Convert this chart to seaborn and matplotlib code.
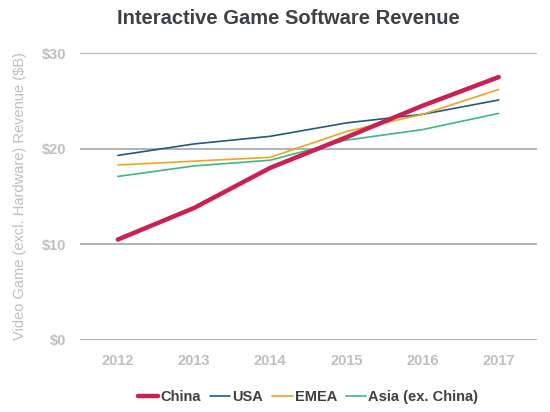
import pandas as pd
import seaborn as sns
import matplotlib.pyplot as plt

years = [2012, 2013, 2014, 2015, 2016, 2017]
china = [10.5, 13.8, 18.0, 21.2, 24.5, 27.5]
usa = [19.3, 20.5, 21.3, 22.7, 23.6, 25.1]
emea = [18.3, 18.7, 19.1, 21.8, 23.6, 26.2]
asia = [17.1, 18.2, 18.8, 20.9, 22.0, 23.7]
regions = ["China", "USA", "EMEA", "Asia (ex. China)"]
colors = ["#CC1F52", "#1F5A84", "#F2A31F", "#3DB887"]
widths = [3.2, 1.2, 1.2, 1.2]

df = pd.DataFrame({"year": years, "China": china, "USA": usa,
                   "EMEA": emea, "Asia (ex. China)": asia})
long_df = df.melt(id_vars="year", var_name="region", value_name="revenue")

sns.set_style("white")
plt.rcParams["font.family"] = ["Liberation Sans", "DejaVu Sans"]

fig = plt.figure(figsize=(5.5, 4.12), dpi=100)
ax = fig.add_axes([0.145, 0.175, 0.831, 0.696])

for name, col, lw in zip(regions, colors, widths):
    sns.lineplot(data=long_df[long_df["region"] == name], x="year", y="revenue",
                 color=col, linewidth=lw, label=name, ax=ax, zorder=3 if name == "China" else 2)

ax.set_ylim(0, 30)
ax.set_xlim(2011.5, 2017.5)
ax.set_yticks([0, 10, 20, 30])
ax.set_yticklabels(["$0", "$10", "$20", "$30"])
ax.set_xticks(years)
ax.set_xticklabels([str(y) for y in years])
ax.yaxis.grid(True, color="#A6A6A6", linewidth=1.2)
ax.set_axisbelow(True)
for s in ax.spines.values():
    s.set_visible(False)
ax.tick_params(axis="both", length=0, labelsize=10.5, labelcolor="#BFBFBF", pad=10)
for lab in ax.get_xticklabels() + ax.get_yticklabels():
    lab.set_fontweight("bold")
ax.set_xlabel("")
ax.set_ylabel("Video Game (excl. Hardware) Revenue ($B)", fontsize=10.5,
              color="#BFBFBF", labelpad=10)

fig.text(0.525, 0.955, "Interactive Game Software Revenue", ha="center", va="center",
         fontsize=14.5, fontweight="bold", color="#3B4049")

leg = ax.legend(loc="center", bbox_to_anchor=(0.5, -0.2), ncol=4, frameon=False,
                handlelength=1.4, handletextpad=0.15, columnspacing=0.6,
                prop={"weight": "bold", "size": 10.5})
for t in leg.get_texts():
    t.set_color("#404040")

fig.savefig("out.png", dpi=100)
